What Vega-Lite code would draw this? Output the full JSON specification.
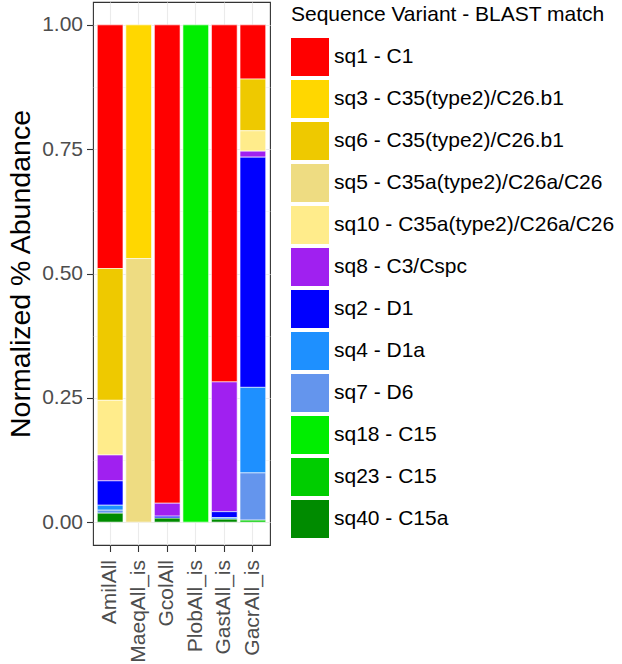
{
  "$schema": "https://vega.github.io/schema/vega-lite/v6.json",
  "width": 177,
  "height": 543,
  "autosize": {"type": "none"},
  "padding": {"left": 93, "top": 2, "right": 352, "bottom": 119},
  "background": "white",
  "config": {
    "font": "Liberation Sans",
    "view": {"stroke": "#333333", "strokeWidth": 1.1}
  },
  "data": {
    "values": [
      {"sample": "AmilAll", "variant": "sq1 - C1", "abundance": 0.49},
      {"sample": "AmilAll", "variant": "sq6 - C35(type2)/C26.b1", "abundance": 0.265},
      {"sample": "AmilAll", "variant": "sq10 - C35a(type2)/C26a/C26", "abundance": 0.11},
      {"sample": "AmilAll", "variant": "sq8 - C3/Cspc", "abundance": 0.052},
      {"sample": "AmilAll", "variant": "sq2 - D1", "abundance": 0.049},
      {"sample": "AmilAll", "variant": "sq4 - D1a", "abundance": 0.01},
      {"sample": "AmilAll", "variant": "sq7 - D6", "abundance": 0.006},
      {"sample": "AmilAll", "variant": "sq40 - C15a", "abundance": 0.018},
      {"sample": "MaeqAll_is", "variant": "sq3 - C35(type2)/C26.b1", "abundance": 0.47},
      {"sample": "MaeqAll_is", "variant": "sq5 - C35a(type2)/C26a/C26", "abundance": 0.53},
      {"sample": "GcolAll", "variant": "sq1 - C1", "abundance": 0.962},
      {"sample": "GcolAll", "variant": "sq8 - C3/Cspc", "abundance": 0.026},
      {"sample": "GcolAll", "variant": "sq2 - D1", "abundance": 0.004},
      {"sample": "GcolAll", "variant": "sq40 - C15a", "abundance": 0.008},
      {"sample": "PlobAll_is", "variant": "sq18 - C15", "abundance": 1.0},
      {"sample": "GastAll_is", "variant": "sq1 - C1", "abundance": 0.718},
      {"sample": "GastAll_is", "variant": "sq8 - C3/Cspc", "abundance": 0.261},
      {"sample": "GastAll_is", "variant": "sq2 - D1", "abundance": 0.012},
      {"sample": "GastAll_is", "variant": "sq4 - D1a", "abundance": 0.003},
      {"sample": "GastAll_is", "variant": "sq40 - C15a", "abundance": 0.006},
      {"sample": "GacrAll_is", "variant": "sq1 - C1", "abundance": 0.109},
      {"sample": "GacrAll_is", "variant": "sq6 - C35(type2)/C26.b1", "abundance": 0.104},
      {"sample": "GacrAll_is", "variant": "sq10 - C35a(type2)/C26a/C26", "abundance": 0.041},
      {"sample": "GacrAll_is", "variant": "sq8 - C3/Cspc", "abundance": 0.012},
      {"sample": "GacrAll_is", "variant": "sq2 - D1", "abundance": 0.463},
      {"sample": "GacrAll_is", "variant": "sq4 - D1a", "abundance": 0.172},
      {"sample": "GacrAll_is", "variant": "sq7 - D6", "abundance": 0.095},
      {"sample": "GacrAll_is", "variant": "sq23 - C15", "abundance": 0.004}
    ]
  },
  "transform": [
    {"calculate": "indexof(['sq1 - C1', 'sq3 - C35(type2)/C26.b1', 'sq6 - C35(type2)/C26.b1', 'sq5 - C35a(type2)/C26a/C26', 'sq10 - C35a(type2)/C26a/C26', 'sq8 - C3/Cspc', 'sq2 - D1', 'sq4 - D1a', 'sq7 - D6', 'sq18 - C15', 'sq23 - C15', 'sq40 - C15a'], datum.variant)", "as": "stackIndex"}
  ],
  "mark": {"type": "bar", "stroke": "white", "strokeWidth": 0.6},
  "encoding": {
    "x": {
      "field": "sample",
      "type": "nominal",
      "sort": ["AmilAll", "MaeqAll_is", "GcolAll", "PlobAll_is", "GastAll_is", "GacrAll_is"],
      "scale": {"paddingInner": 0.1, "paddingOuter": 0.15},
      "axis": {
        "title": null,
        "labelAngle": -90,
        "labelAlign": "right",
        "labelBaseline": "middle",
        "labelFontSize": 21,
        "labelColor": "#4D4D4D",
        "labelPadding": 8,
        "tickColor": "#333333",
        "tickSize": 6.5,
        "tickWidth": 1.1,
        "domain": false,
        "grid": true,
        "gridColor": "#EBEBEB",
        "gridWidth": 1.1,
        "bandPosition": 0.5
      }
    },
    "y": {
      "field": "abundance",
      "type": "quantitative",
      "stack": "zero",
      "scale": {"domain": [-0.046, 1.046], "nice": false, "zero": false},
      "axis": {
        "title": "Normalized % Abundance",
        "titleFontSize": 28.5,
        "titleFontWeight": "normal",
        "titleColor": "black",
        "titlePadding": 6,
        "values": [0, 0.125, 0.25, 0.375, 0.5, 0.625, 0.75, 0.875, 1],
        "labelExpr": "datum.value % 0.25 == 0 ? format(datum.value, '.2f') : ''",
        "labelFontSize": 21,
        "labelColor": "#4D4D4D",
        "labelPadding": 4,
        "tickColor": "#333333",
        "tickSize": 6.5,
        "tickWidth": 1.1,
        "tickOpacity": {"condition": {"test": "datum.value % 0.25 == 0", "value": 1}, "value": 0},
        "domain": false,
        "grid": true,
        "gridColor": "#EBEBEB",
        "gridWidth": {"condition": {"test": "datum.value % 0.25 == 0", "value": 1.1}, "value": 0.55}
      }
    },
    "order": {"field": "stackIndex", "type": "quantitative", "sort": "descending"},
    "color": {
      "field": "variant",
      "type": "nominal",
      "sort": ["sq1 - C1", "sq3 - C35(type2)/C26.b1", "sq6 - C35(type2)/C26.b1", "sq5 - C35a(type2)/C26a/C26", "sq10 - C35a(type2)/C26a/C26", "sq8 - C3/Cspc", "sq2 - D1", "sq4 - D1a", "sq7 - D6", "sq18 - C15", "sq23 - C15", "sq40 - C15a"],
      "scale": {
        "domain": ["sq1 - C1", "sq3 - C35(type2)/C26.b1", "sq6 - C35(type2)/C26.b1", "sq5 - C35a(type2)/C26a/C26", "sq10 - C35a(type2)/C26a/C26", "sq8 - C3/Cspc", "sq2 - D1", "sq4 - D1a", "sq7 - D6", "sq18 - C15", "sq23 - C15", "sq40 - C15a"],
        "range": ["#FF0000", "#FFD700", "#EEC900", "#EEDC82", "#FFEC8B", "#A020F0", "#0000FF", "#1E90FF", "#6495ED", "#00EE00", "#00CD00", "#008B00"]
      },
      "legend": {
        "orient": "none",
        "legendX": 198,
        "legendY": 2,
        "padding": 0,
        "title": "Sequence Variant - BLAST match",
        "titleFontSize": 21,
        "titleFontWeight": "normal",
        "titleColor": "black",
        "titlePadding": 13,
        "titleLimit": 400,
        "labelFontSize": 21,
        "labelColor": "black",
        "labelOffset": 5,
        "labelLimit": 400,
        "symbolType": "square",
        "symbolSize": 1444,
        "symbolStrokeWidth": 0,
        "symbolOpacity": 1,
        "rowPadding": 4
      }
    }
  }
}
